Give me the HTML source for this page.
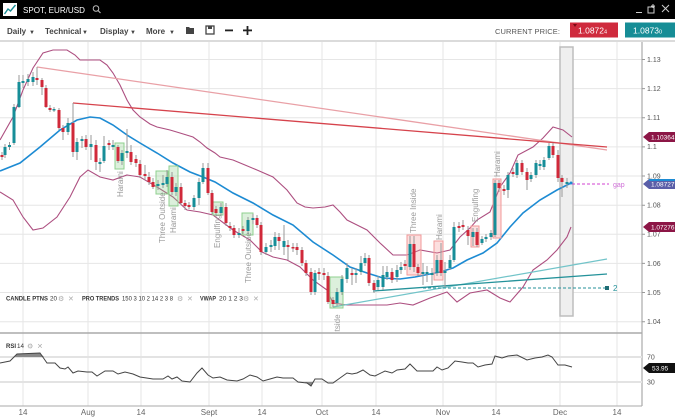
<!DOCTYPE html>
<html><head><meta charset="utf-8"><style>
html,body{margin:0;padding:0;background:#fff;}
svg{display:block;font-family:"Liberation Sans",sans-serif;}
</style></head><body>
<svg width="675" height="417" viewBox="0 0 675 417" xmlns="http://www.w3.org/2000/svg">
<!-- header -->
<rect x="0" y="0" width="675" height="19" fill="#000"/>
<rect x="3" y="3" width="14" height="13" fill="#fff"/>
<path d="M4.5 14L8 9L10.5 11L15.5 5" stroke="#1a8d96" stroke-width="1.4" fill="none"/>
<text x="23" y="13" fill="#fff" font-size="8.5" textLength="62" lengthAdjust="spacingAndGlyphs">SPOT, EUR/USD</text>
<circle cx="96" cy="8.5" r="2.8" stroke="#bbb" stroke-width="1" fill="none"/>
<line x1="98" y1="10.5" x2="100.5" y2="13" stroke="#bbb" stroke-width="1.1"/>
<line x1="636" y1="12.5" x2="642" y2="12.5" stroke="#ccc" stroke-width="1"/>
<rect x="648" y="7" width="6" height="6" stroke="#ccc" fill="none" stroke-width="1"/>
<path d="M653 4v4M651 6h4" stroke="#ccc" stroke-width="1"/>
<path d="M662 5l7 7M669 5l-7 7" stroke="#ccc" stroke-width="1"/>
<!-- toolbar -->
<g font-size="8" fill="#444" font-weight="bold">
<text x="7" y="34">Daily</text><text x="29" y="34" font-size="6">▼</text>
<text x="45" y="34">Technical</text><text x="82" y="34" font-size="6">▼</text>
<text x="100" y="34">Display</text><text x="130" y="34" font-size="6">▼</text>
<text x="146" y="34">More</text><text x="169" y="34" font-size="6">▼</text>
</g>
<path d="M186 27h3l1 1h4v6h-8z" fill="#444"/>
<rect x="206" y="26" width="8" height="8" fill="none" stroke="#444" stroke-width="1.3"/>
<rect x="208" y="26" width="4" height="3" fill="#444"/>
<rect x="225" y="29.5" width="8" height="1.8" fill="#222"/>
<rect x="243" y="29.5" width="9" height="1.8" fill="#222"/><rect x="246.6" y="26" width="1.8" height="9" fill="#222"/>
<text x="495" y="34" font-size="7.5" fill="#555" textLength="65" lengthAdjust="spacing">CURRENT PRICE:</text>
<rect x="570" y="22.5" width="48" height="15" fill="#cf2a3d"/>
<text x="578" y="33.5" font-size="8.5" fill="#fff">1.0872<tspan font-size="5.5">4</tspan></text>
<path d="M573 24l2 3l2-3z" fill="#7a0a15"/>
<rect x="625" y="22.5" width="50" height="15" fill="#168d96"/>
<text x="633" y="33.5" font-size="8.5" fill="#fff">1.0873<tspan font-size="5.5">0</tspan></text>
<line x1="0" y1="41" x2="675" y2="41" stroke="#cfcfcf" stroke-width="1.5"/>

<!-- grids -->
<g stroke="#e6e6e6" stroke-width="1">
<path d="M23 42V406M88 42V406M141 42V406M209 42V406M262 42V406M322 42V406M376 42V406M443 42V406M496 42V406M560 42V406M617 42V406"/>
<path d="M0 59.5H642M0 88.6H642M0 117.8H642M0 146.9H642M0 176H642M0 205.2H642M0 234.3H642M0 263.4H642M0 292.5H642M0 321.7H642"/>
</g>
<!-- axes -->
<line x1="642" y1="42" x2="642" y2="406" stroke="#999" stroke-width="1"/>
<line x1="0" y1="333" x2="642" y2="333" stroke="#aaa" stroke-width="1.5"/>
<line x1="0" y1="406" x2="642" y2="406" stroke="#aaa" stroke-width="1"/>
<g font-size="7" fill="#555">
<text x="647" y="62">1.13</text><text x="647" y="91">1.12</text><text x="647" y="120">1.11</text><text x="647" y="149">1.1</text>
<text x="647" y="178.5">1.09</text><text x="647" y="207.5">1.08</text><text x="647" y="236.5">1.07</text><text x="647" y="266">1.06</text>
<text x="647" y="295">1.05</text><text x="647" y="324">1.04</text>
<text x="647" y="359.5">70</text><text x="647" y="384.5">30</text>
</g>
<path d="M642 59.5h3M642 88.6h3M642 117.8h3M642 146.9h3M642 176h3M642 205.2h3M642 234.3h3M642 263.4h3M642 292.5h3M642 321.7h3" stroke="#999"/>

<svg x="0" y="42" width="642" height="290" viewBox="0 42 642 290" overflow="hidden">
<!-- gray highlight rect -->
<rect x="560" y="47" width="13" height="269" fill="#efefef" stroke="#bdbdbd" stroke-width="1.5"/>
<!-- bollinger -->
<polyline fill="none" stroke="#ad4f80" stroke-width="1.1" points="0,140 13,117 23,90 33,68 43,53 53,50 67,50 75,55 80,60 100,60 107,65 113,73 120,85 127,100 133,110 140,117 150,124 157,127 170,130 180,133 193,137 200,142 207,148 215,153 220,157 233,160 245,165 257,170 273,177 287,190 297,203 305,207 313,208 325,207 333,205 340,212 347,220 357,225 367,230 380,243 393,255 407,255 415,252 420,250 437,253 450,250 460,237 470,228 477,220 490,212 500,187 510,173 518,155 533,147 543,138 553,127 563,130 572,137"/>
<polyline fill="none" stroke="#ad4f80" stroke-width="1.1" points="0,192 13,200 23,217 33,230 43,228 57,217 70,197 80,177 88,170 100,177 113,180 127,175 140,177 157,187 173,197 187,210 200,212 213,215 233,230 250,240 262,252 273,257 287,260 300,267 313,280 327,290 333,303 347,305 367,305 387,305 400,303 413,305 430,298 447,292 457,302 470,293 487,290 500,298 510,302 523,287 533,270 547,260 557,250 567,237 571,227"/>
<!-- MA -->
<polyline fill="none" stroke="#1d8bd3" stroke-width="1.6" points="0,171 20,163 40,147 60,130 77,120 90,117 100,118 113,125 127,135 140,143 157,153 173,163 190,172 203,177 215,182 233,193 253,203 273,215 293,225 313,242 333,255 350,267 367,273 383,278 400,279 415,277 440,272 453,268 467,260 483,253 497,243 510,227 523,213 540,200 557,190 571,183"/>
<!-- trend lines -->
<line x1="37" y1="67" x2="607" y2="150" stroke="#e9a0a6" stroke-width="1.3"/>
<line x1="73" y1="103" x2="607" y2="147" stroke="#d6434c" stroke-width="1.3"/>
<line x1="333" y1="307" x2="607" y2="259" stroke="#72c4c9" stroke-width="1.2"/>
<line x1="373" y1="291" x2="607" y2="274" stroke="#24929a" stroke-width="1.3"/>
<line x1="423" y1="288" x2="605" y2="288" stroke="#24929a" stroke-width="1" stroke-dasharray="3,2"/>
<rect x="605" y="286" width="4" height="4" fill="#1f6d75"/>
<text x="613" y="291" font-size="8" fill="#24929a">2</text>
<line x1="572" y1="184" x2="609" y2="184" stroke="#d040d0" stroke-width="1" stroke-dasharray="3,2"/>
<text x="613" y="187" font-size="7" fill="#d070d8">gap</text>
<!-- pattern boxes -->
<g fill="rgba(140,205,140,0.3)" stroke="#8fd08f" stroke-width="1">
<rect x="115" y="143" width="9" height="26"/>
<rect x="156" y="171" width="12" height="23"/>
<rect x="169" y="166" width="9" height="40"/>
<rect x="213" y="202" width="10" height="13"/>
<rect x="242" y="213" width="11" height="22"/>
<rect x="330" y="277" width="13" height="31"/>
</g>
<g fill="rgba(245,150,150,0.3)" stroke="#f29a9a" stroke-width="1">
<rect x="407" y="235" width="14" height="40"/>
<rect x="434" y="241" width="9" height="39"/>
<rect x="471" y="226" width="8" height="21"/>
<rect x="493" y="179" width="8" height="59"/>
</g>
<!-- candles -->
<path fill="none" stroke="#999" stroke-width="1" d="M2 152V160M5 144V158M9.5 142V150M14 104V145M19 75V108M23 75V88M28 74V86M33 72V86M37 67V85M42 78V95M46 85V108M50 105V112M54 107V112M59 108V130M63 125V140M68 118V135M73 103V157M77 138V160M82 136V148M86 135V150M91 135V160M96 140V170M100 158V172M104 136V163M109 140V150M113 140V150M118 145V163M122 150V165M127 129V158M131 145V165M136 155V167M140 160V178M145 165V180M149 172V185M153 178V189M158 180V190M163 175V188M167 170V187M172 172V195M176 183V196M181 183V205M185 200V210M189 202V209M194 195V210M199 178V205M203 163V184M208 163V195M212 190V214M216 206V216M221 203V216M226 203V226M230 222V231M234 225V238M239 228V238M243 226V234M248 217V234M253 214V224M257 215V228M261 222V255M266 243V255M271 240V252M275 232V250M279 233V250M284 225V255M288 240V260M293 243V252M297 243V255M302 247V266M306 260V276M311 268V295M315 270V295M319 268V280M324 268V280M328 272V304M333 297V307M337 288V306M342 275V295M347 263V283M352 268V285M356 268V283M361 256V275M365 253V266M369 255V286M374 280V293M378 276V290M383 266V290M387 266V280M392 268V283M397 265V282M401 262V274M405 260V270M410 236V270M414 236V272M418 264V276M423 263V285M427 266V282M432 268V285M437 255V276M441 243V276M445 262V287M450 255V270M454 222V262M459 222V232M463 220V230M468 226V245M473 228V246M477 228V247M482 236V245M486 234V242M491 230V240M495 180V237M499 180V192M504 185V195M508 172V198M513 168V177M517 160V178M522 160V175M527 168V190M531 172V182M536 160V178M540 160V170M544 157V170M549 143V160M553 143V158M558 150V182M562 175V197M567 178V188"/>
<path fill="#178e98" d="M3.5 147h3v8h-3zM8 145h3v2h-3zM12.5 107h3v36h-3zM17.5 82h3v25h-3zM21.5 81h3v2h-3zM26.5 79h3v3h-3zM31.5 77h3v5h-3zM52.5 109h3v1.5h-3zM66.5 123h3v9h-3zM75.5 142h3v10h-3zM80.5 139h3v2h-3zM89.5 144h3v3h-3zM98.5 162h3v2h-3zM102.5 146h3v15h-3zM111.5 145h3v2h-3zM120.5 153h3v8h-3zM125.5 151h3v2h-3zM156.5 184h3v2h-3zM161.5 183h3v2h-3zM165.5 177h3v7h-3zM174.5 187h3v5h-3zM192.5 198h3v9h-3zM197.5 182h3v16h-3zM201.5 168h3v14h-3zM219.5 207h3v6h-3zM237.5 233h3v2h-3zM246.5 220h3v11h-3zM251.5 218h3v2h-3zM264.5 247h3v5h-3zM269.5 245h3v2h-3zM273.5 237h3v9h-3zM282.5 241h3v6h-3zM313.5 273h3v19h-3zM335.5 292h3v11h-3zM340.5 279h3v13h-3zM345.5 268h3v11h-3zM354.5 273h3v2h-3zM359.5 263h3v9h-3zM363.5 258h3v5h-3zM376.5 280h3v7h-3zM381.5 275h3v12h-3zM385.5 272h3v5h-3zM395.5 270h3v7h-3zM399.5 267h3v3h-3zM408.5 244h3v23h-3zM421.5 272h3v2h-3zM425.5 272h3v2h-3zM430.5 273h3v2h-3zM435.5 260h3v13h-3zM443.5 271h3v2h-3zM448.5 260h3v8h-3zM452.5 227h3v33h-3zM471.5 232h3v5h-3zM480.5 239h3v4h-3zM484.5 237h3v2h-3zM489.5 233h3v4h-3zM493.5 183h3v52h-3zM506.5 175h3v15h-3zM515.5 163h3v12h-3zM529.5 175h3v4h-3zM534.5 163h3v12h-3zM538.5 164h3v2h-3zM542.5 160h3v7h-3zM547.5 146h3v12h-3zM565.5 182h3v2h-3z"/>
<path fill="#d0293a" d="M0.5 155h3v2h-3zM35.5 78h3v2h-3zM40.5 80h3v7h-3zM44.5 88h3v19h-3zM48.5 108h3v2h-3zM57.5 110h3v18h-3zM61.5 128h3v4h-3zM71.5 123h3v29h-3zM84.5 139h3v8h-3zM94.5 145h3v17h-3zM107.5 143h3v2h-3zM116.5 147h3v14h-3zM129.5 152h3v10h-3zM134.5 159h3v4h-3zM138.5 164h3v11h-3zM143.5 174h3v2h-3zM147.5 177h3v5h-3zM151.5 182h3v5h-3zM170.5 177h3v15h-3zM179.5 187h3v16h-3zM183.5 203h3v3h-3zM187.5 205h3v2h-3zM206.5 168h3v25h-3zM210.5 193h3v19h-3zM214.5 209h3v4h-3zM224.5 207h3v16h-3zM228.5 226h3v2h-3zM232.5 228h3v7h-3zM241.5 229h3v2h-3zM255.5 218h3v7h-3zM259.5 225h3v27h-3zM277.5 237h3v4h-3zM286.5 245h3v2h-3zM291.5 247h3v1.5h-3zM295.5 247h3v3h-3zM300.5 250h3v13h-3zM304.5 263h3v10h-3zM309.5 272h3v20h-3zM317.5 272h3v2h-3zM322.5 273h3v2h-3zM326.5 276h3v26h-3zM331.5 300h3v4h-3zM350.5 273h3v2h-3zM367.5 258h3v25h-3zM372.5 283h3v7h-3zM390.5 272h3v8h-3zM403.5 264h3v2h-3zM412.5 244h3v23h-3zM416.5 267h3v6h-3zM439.5 260h3v13h-3zM457.5 226h3v2h-3zM461.5 225h3v2h-3zM466.5 230h3v6h-3zM475.5 232h3v13h-3zM497.5 183h3v5h-3zM502.5 189h3v2h-3zM511.5 172h3v2h-3zM520.5 163h3v9h-3zM525.5 172h3v8h-3zM551.5 146h3v9h-3zM556.5 155h3v23h-3zM560.5 178h3v4h-3z"/>
<circle cx="571" cy="183" r="1.5" fill="#1d8bd3"/>
<!-- pattern labels -->
<g font-size="8" fill="#9a9a9a">
<text transform="translate(123,197) rotate(-90)">Harami</text>
<text transform="translate(165,243) rotate(-90)">Three Outside</text>
<text transform="translate(176,233) rotate(-90)">Harami</text>
<text transform="translate(220,248) rotate(-90)">Engulfing</text>
<text transform="translate(251,283) rotate(-90)">Three Outside</text>
<text transform="translate(340,342) rotate(-90)">Outside</text>
<text transform="translate(416,233) rotate(-90)">Three Inside</text>
<text transform="translate(442,240) rotate(-90)">Harami</text>
<text transform="translate(478,222) rotate(-90)">Engulfing</text>
<text transform="translate(500,177) rotate(-90)">Harami</text>
</g>
<!-- legend -->
<g font-size="6" fill="#333">
<text x="6" y="300.5" font-weight="bold" textLength="42" lengthAdjust="spacingAndGlyphs">CANDLE PTNS</text>
<text x="50" y="300.5" textLength="7" lengthAdjust="spacingAndGlyphs">20</text>
<text x="82" y="300.5" font-weight="bold" textLength="37" lengthAdjust="spacingAndGlyphs">PRO TRENDS</text>
<text x="122" y="300.5" textLength="51" lengthAdjust="spacingAndGlyphs">150 3 10 2 14 2 3 8</text>
<text x="200" y="300.5" font-weight="bold" textLength="16" lengthAdjust="spacingAndGlyphs">VWAP</text>
<text x="219" y="300.5" textLength="24" lengthAdjust="spacingAndGlyphs">20 1 2 3</text>
</g>
<g fill="#aaa" font-size="7">
<text x="58" y="301">⚙</text><text x="68" y="301">✕</text>
<text x="177" y="301">⚙</text><text x="187" y="301">✕</text>
<text x="243" y="301">⚙</text><text x="253" y="301">✕</text>
</g>
</svg>

<!-- right price tags -->
<path d="M643 137l6-5h26v10h-26z" fill="#8c1646"/>
<text x="651" y="139.5" font-size="6.5" fill="#fff">1.10364</text>
<path d="M643 184l6-5h26v10h-26z" fill="#5a5ea8"/>
<path d="M649 179h26v2h-26z" fill="#1d8bd3"/>
<text x="651" y="186.5" font-size="6.5" fill="#fff">1.08727</text>
<path d="M643 227l6-5h26v10h-26z" fill="#8c1646"/>
<text x="651" y="229.5" font-size="6.5" fill="#fff">1.07276</text>

<!-- RSI panel -->
<line x1="0" y1="357" x2="642" y2="357" stroke="#e3e3e3" stroke-width="2"/>
<line x1="0" y1="382" x2="642" y2="382" stroke="#e3e3e3" stroke-width="2"/>
<path d="M15 357L17 354L40 353L44 357z" fill="#888"/>
<path d="M305 382L311 386L313 382z" fill="#888"/>
<polyline fill="none" stroke="#444" stroke-width="1" points="0,363 10,361 17,354 40,353 47,363 55,363 60,368 65,369 68,367 73,373 78,371 87,372 92,372 97,376 105,371 113,371 118,374 125,372 133,374 140,377 153,379 163,379 168,376 172,379 177,377 182,381 190,382 197,373 202,368 208,375 213,378 220,377 227,380 237,381 243,379 250,375 257,377 263,381 270,379 277,377 283,378 293,378 298,382 307,383 311,386 315,379 322,379 328,383 333,383 340,378 347,373 352,374 357,373 363,370 370,375 375,376 385,371 392,373 397,370 405,369 410,364 417,371 425,371 433,371 437,367 442,370 448,368 455,361 462,362 468,363 473,363 478,367 485,365 492,364 495,356 502,358 508,356 517,355 527,360 535,358 542,357 548,355 552,357 558,365 565,365 572,367"/>
<text x="6" y="348" font-size="6" fill="#333" font-weight="bold" textLength="10" lengthAdjust="spacingAndGlyphs">RSI</text>
<text x="17" y="348" font-size="6" fill="#333" textLength="7" lengthAdjust="spacingAndGlyphs">14</text>
<text x="27" y="348.5" font-size="7" fill="#aaa">⚙</text><text x="37" y="348.5" font-size="7" fill="#aaa">✕</text>
<path d="M643 368l6-5h26v10h-26z" fill="#111"/>
<text x="652" y="370.5" font-size="6.5" fill="#fff">53.95</text>

<!-- x axis labels -->
<g font-size="8" fill="#666" text-anchor="middle">
<text x="23" y="415">14</text><text x="88" y="415">Aug</text><text x="141" y="415">14</text>
<text x="209" y="415">Sept</text><text x="262" y="415">14</text><text x="322" y="415">Oct</text>
<text x="376" y="415">14</text><text x="443" y="415">Nov</text><text x="496" y="415">14</text>
<text x="560" y="415">Dec</text><text x="617" y="415">14</text>
</g>
</svg>
</body></html>
